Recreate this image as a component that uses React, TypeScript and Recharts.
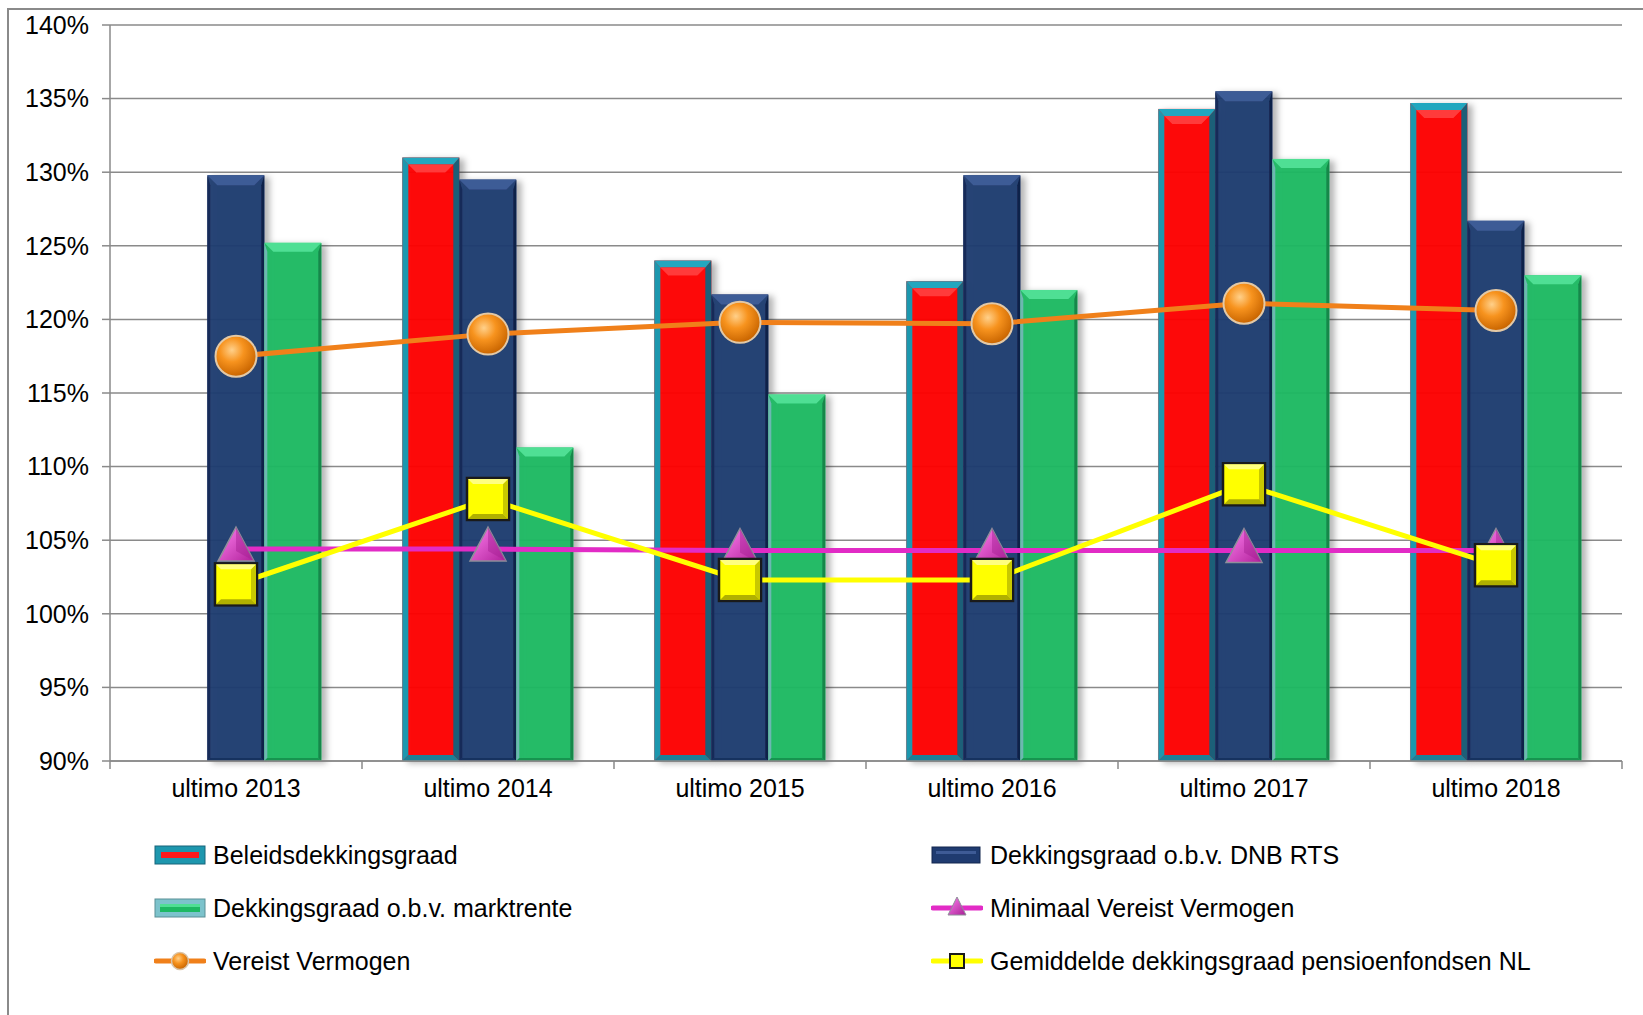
import React from "react";
import { ComposedChart, Bar, Line, XAxis, YAxis, CartesianGrid } from "recharts";

const categories = ["ultimo 2013", "ultimo 2014", "ultimo 2015", "ultimo 2016", "ultimo 2017", "ultimo 2018"];
const beleidsdekkingsgraad = [null, 131.0, 124.0, 122.6, 134.3, 134.7];
const dnbRts = [129.8, 129.5, 121.7, 129.8, 135.5, 126.7];
const marktrente = [125.2, 111.3, 114.9, 122.0, 130.9, 123.0];
const minimaalVereist = [104.4, 104.4, 104.3, 104.3, 104.3, 104.3];
const vereistVermogen = [117.5, 119.0, 119.8, 119.7, 121.1, 120.6];
const gemiddeldNL = [102.0, 107.8, 102.3, 102.3, 108.8, 103.3];
const yTicks = [90, 95, 100, 105, 110, 115, 120, 125, 130, 135, 140];

const data = categories.map((name, i) => ({
	name,
	beleid: beleidsdekkingsgraad[i],
	dnb: dnbRts[i],
	markt: marktrente[i],
	minimaal: minimaalVereist[i],
	vereist: vereistVermogen[i],
	gemiddeld: gemiddeldNL[i],
}));

const FONT = "'Liberation Sans', Arial, Helvetica, sans-serif";
const FONT_SIZE = 25;
const CHART_W = 1643;
const CHART_H = 811;
const MARGIN = { top: 25, right: 21, left: 0, bottom: 0 };
const Y_AXIS_W = 110;
const X_AXIS_H = 50;
const AXIS_Y = CHART_H - MARGIN.bottom - X_AXIS_H;
const BAND_HALF = (CHART_W - MARGIN.right - Y_AXIS_W) / categories.length / 2;
const GRID = "#8a8a8a";

type BarStyle = {
	main: string;
	top: string;
	left: string;
	right: string;
	bottom: string;
	side: number;
	bevel: number;
	inner?: string;
};

const redStyle: BarStyle = {
	main: "#ff0000",
	top: "#22a7bf",
	left: "#1e97ae",
	right: "#1a5f78",
	bottom: "#1a7f96",
	side: 6,
	bevel: 7,
	inner: "#ff3a3a",
};
const navyStyle: BarStyle = {
	main: "#1f3b70",
	top: "#3e5b96",
	left: "#142a58",
	right: "#0f2148",
	bottom: "#18305e",
	side: 3,
	bevel: 10,
};
const greenStyle: BarStyle = {
	main: "#1db963",
	top: "#4fdf94",
	left: "#6db7b1",
	right: "#17874a",
	bottom: "#179450",
	side: 3,
	bevel: 9,
};

const bevelBar = (st: BarStyle) => (props: any) => {
	const { x, y, width: w, height: h } = props;
	if (h == null || h <= 0 || x == null) return <g />;
	const s = st.side;
	const b = st.bevel;
	return (
		<g filter="url(#barShadow)">
			<rect x={x} y={y} width={w} height={h} fill={st.main} fillOpacity={0.95} />
			<polygon points={`${x},${y} ${x + s},${y + b} ${x + s},${y + h - s} ${x},${y + h}`} fill={st.left} />
			<polygon points={`${x + w},${y} ${x + w},${y + h} ${x + w - s},${y + h - s} ${x + w - s},${y + b}`} fill={st.right} />
			<polygon points={`${x},${y + h} ${x + s},${y + h - s} ${x + w - s},${y + h - s} ${x + w},${y + h}`} fill={st.bottom} />
			<polygon points={`${x},${y} ${x + w},${y} ${x + w - (st.inner ? s : b)},${y + b} ${x + (st.inner ? s : b)},${y + b}`} fill={st.top} />
			{st.inner && (
				<polygon
					points={`${x + s},${y + b} ${x + w - s},${y + b} ${x + w - s - 8},${y + b + 8} ${x + s + 8},${y + b + 8}`}
					fill={st.inner}
				/>
			)}
		</g>
	);
};

const circleDot = (props: any) => {
	const { cx, cy, index } = props;
	if (cx == null || cy == null) return <g key={`c${index}`} />;
	return (
		<g key={`c${index}`}>
			<circle cx={cx} cy={cy} r={20.5} fill="url(#orangeBall)" stroke="#e3c9a6" strokeWidth={2} />
		</g>
	);
};

const triangleDot = (props: any) => {
	const { cx, cy, index } = props;
	if (cx == null || cy == null) return <g key={`t${index}`} />;
	return (
		<g key={`t${index}`}>
			<polygon
				points={`${cx},${cy - 22} ${cx + 18},${cy + 12} ${cx - 18},${cy + 12}`}
				fill="url(#triGrad)"
				stroke="#8f8f9a"
				strokeWidth={1.5}
			/>
			<polygon points={`${cx},${cy - 22} ${cx + 18},${cy + 12} ${cx},${cy + 2}`} fill="#a41f93" opacity={0.45} />
		</g>
	);
};

const squareDot = (props: any) => {
	const { cx, cy, index } = props;
	if (cx == null || cy == null) return <g key={`s${index}`} />;
	const r = 21;
	return (
		<g key={`s${index}`}>
			<rect x={cx - r} y={cy - r} width={2 * r} height={2 * r} fill="#ffff00" stroke="#1a1a1a" strokeWidth={2.5} />
			<polygon points={`${cx + r - 1},${cy - r + 1} ${cx + r - 1},${cy + r - 1} ${cx + r - 6},${cy + r - 6} ${cx + r - 6},${cy - r + 6}`} fill="#c8c800" />
			<polygon points={`${cx - r + 1},${cy + r - 1} ${cx + r - 1},${cy + r - 1} ${cx + r - 6},${cy + r - 6} ${cx - r + 6},${cy + r - 6}`} fill="#b0b000" />
			<polygon points={`${cx - r + 1},${cy - r + 1} ${cx + r - 1},${cy - r + 1} ${cx + r - 6},${cy - r + 6} ${cx - r + 6},${cy - r + 6}`} fill="#ffff80" />
		</g>
	);
};

const XTick = (props: any) => {
	const { x, payload, index } = props;
	const last = index === categories.length - 1;
	return (
		<g>
			<line x1={x - BAND_HALF} x2={x - BAND_HALF} y1={AXIS_Y} y2={AXIS_Y + 8} stroke={GRID} strokeWidth={1.5} />
			{last && <line x1={x + BAND_HALF} x2={x + BAND_HALF} y1={AXIS_Y} y2={AXIS_Y + 8} stroke={GRID} strokeWidth={1.5} />}
			<text x={x} y={AXIS_Y + 36} textAnchor="middle" fontSize={FONT_SIZE} fontFamily={FONT} fill="#000">
				{payload.value}
			</text>
		</g>
	);
};

const legendItems = [
	{ label: "Beleidsdekkingsgraad", kind: "red" },
	{ label: "Dekkingsgraad o.b.v. DNB RTS", kind: "navy" },
	{ label: "Dekkingsgraad o.b.v. marktrente", kind: "green" },
	{ label: "Minimaal Vereist Vermogen", kind: "magenta" },
	{ label: "Vereist Vermogen", kind: "orange" },
	{ label: "Gemiddelde dekkingsgraad pensioenfondsen NL", kind: "yellow" },
];

const LegendIcon = ({ kind }: { kind: string }) => {
	return (
		<svg width={52} height={26}>
			{kind === "red" && (
				<g>
					<rect x={1} y={4} width={50} height={18} fill="#1e97ae" stroke="#17647a" strokeWidth={1} />
					<rect x={7} y={10} width={38} height={6} fill="#ff1a1a" />
				</g>
			)}
			{kind === "navy" && (
				<g>
					<rect x={1} y={5} width={48} height={16} fill="#1f3b70" stroke="#13274f" strokeWidth={1} />
					<rect x={5} y={9} width={40} height={3} fill="#3e5b96" />
				</g>
			)}
			{kind === "green" && (
				<g>
					<rect x={1} y={4} width={50} height={18} fill="#7cc3cc" stroke="#5a8f96" strokeWidth={1} />
					<rect x={6} y={9} width={40} height={8} fill="#1db963" />
					<rect x={6} y={9} width={40} height={3} fill="#4fdf94" />
				</g>
			)}
			{kind === "magenta" && (
				<g>
					<line x1={2} x2={50} y1={13} y2={13} stroke="#e22bc6" strokeWidth={5} strokeLinecap="round" />
					<polygon points="26,2 35,20 17,20" fill="url(#triGradLegend)" stroke="#8f8f9a" strokeWidth={1} />
				</g>
			)}
			{kind === "orange" && (
				<g>
					<line x1={2} x2={50} y1={13} y2={13} stroke="#f0801a" strokeWidth={5} strokeLinecap="round" />
					<circle cx={26} cy={13} r={8.5} fill="url(#orangeBallLegend)" stroke="#d9c3a6" strokeWidth={1.5} />
				</g>
			)}
			{kind === "yellow" && (
				<g>
					<line x1={2} x2={50} y1={13} y2={13} stroke="#ffff00" strokeWidth={5} strokeLinecap="round" />
					<rect x={19} y={6} width={14} height={14} fill="#ffff00" stroke="#1a1a1a" strokeWidth={2} />
				</g>
			)}
			<defs>
				<radialGradient id="orangeBallLegend" cx="40%" cy="35%" r="65%">
					<stop offset="0%" stopColor="#ffd08a" />
					<stop offset="45%" stopColor="#f7931e" />
					<stop offset="100%" stopColor="#c96500" />
				</radialGradient>
				<linearGradient id="triGradLegend" x1="0" y1="0" x2="1" y2="1">
					<stop offset="0%" stopColor="#ff80f0" />
					<stop offset="100%" stopColor="#a81f95" />
				</linearGradient>
			</defs>
		</svg>
	);
};

const legendRows = [855, 908, 961];
const legendCols = [
	{ icon: 154, text: 213 },
	{ icon: 931, text: 990 },
];

const App = () => {
	return (
		<div style={{ position: "absolute", left: 0, top: 0, width: CHART_W, height: 1015, background: "#fff", fontFamily: FONT }}>
			<div
				style={{
					position: "absolute",
					left: 7,
					top: 8,
					width: CHART_W,
					height: 1015,
					borderLeft: `2px solid ${GRID}`,
					borderTop: `2px solid ${GRID}`,
				}}
			/>
			<div style={{ position: "absolute", left: 0, top: 0 }}>
				<ComposedChart
					width={CHART_W}
					height={CHART_H}
					data={data}
					margin={MARGIN}
					barCategoryGap="16%"
					barGap={0}>
					<defs>
						<filter id="barShadow" x="-20%" y="-5%" width="160%" height="110%">
							<feDropShadow dx="5" dy="2" stdDeviation="3" floodColor="#000" floodOpacity="0.3" />
						</filter>
						<radialGradient id="orangeBall" cx="40%" cy="35%" r="65%">
							<stop offset="0%" stopColor="#ffd08a" />
							<stop offset="45%" stopColor="#f7931e" />
							<stop offset="100%" stopColor="#c96500" />
						</radialGradient>
						<linearGradient id="triGrad" x1="0" y1="0" x2="1" y2="1">
							<stop offset="0%" stopColor="#ff80f0" />
							<stop offset="100%" stopColor="#b0209a" />
						</linearGradient>
					</defs>
					<CartesianGrid vertical={false} stroke={GRID} strokeWidth={1.5} />
					<XAxis
						dataKey="name"
						height={X_AXIS_H}
						tickLine={false}
						axisLine={{ stroke: GRID, strokeWidth: 1.5 }}
						tick={<XTick />}
						interval={0}
					/>
					<YAxis
						width={Y_AXIS_W}
						domain={[90, 140]}
						ticks={yTicks}
						tickFormatter={(v) => `${v}%`}
						tickSize={8}
						tickMargin={13}
						axisLine={{ stroke: GRID, strokeWidth: 1.5 }}
						tickLine={{ stroke: GRID, strokeWidth: 1.5 }}
						tick={{ fill: "#000", fontSize: FONT_SIZE, fontFamily: FONT }}
					/>
					<Bar dataKey="beleid" shape={bevelBar(redStyle)} isAnimationActive={false} />
					<Bar dataKey="dnb" shape={bevelBar(navyStyle)} isAnimationActive={false} />
					<Bar dataKey="markt" shape={bevelBar(greenStyle)} isAnimationActive={false} />
					<Line
						dataKey="minimaal"
						stroke="#e22bc6"
						strokeWidth={5}
						dot={triangleDot}
						activeDot={false}
						isAnimationActive={false}
					/>
					<Line
						dataKey="vereist"
						stroke="#f0801a"
						strokeWidth={5}
						dot={circleDot}
						activeDot={false}
						isAnimationActive={false}
					/>
					<Line
						dataKey="gemiddeld"
						stroke="#ffff00"
						strokeWidth={5}
						dot={squareDot}
						activeDot={false}
						isAnimationActive={false}
					/>
				</ComposedChart>
			</div>
			{legendItems.map((item, i) => {
				const row = legendRows[Math.floor(i / 2)];
				const col = legendCols[i % 2];
				return (
					<React.Fragment key={item.label}>
						<div style={{ position: "absolute", left: col.icon, top: row - 13, height: 26 }}>
							<LegendIcon kind={item.kind} />
						</div>
						<div
							style={{
								position: "absolute",
								left: col.text,
								top: row - 15,
								height: 30,
								lineHeight: "30px",
								fontSize: FONT_SIZE,
								color: "#000",
								whiteSpace: "nowrap",
							}}>
							{item.label}
						</div>
					</React.Fragment>
				);
			})}
		</div>
	);
};

export default App;
